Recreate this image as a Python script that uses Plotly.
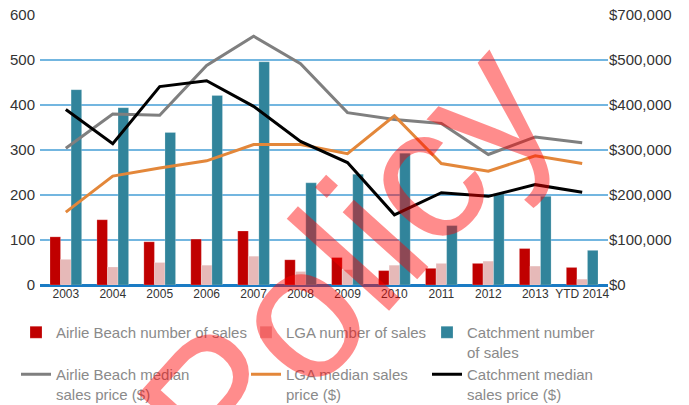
import plotly.graph_objects as go

categories = ["2003", "2004", "2005", "2006", "2007", "2008", "2009", "2010", "2011", "2012", "2013", "YTD 2014"]

airlie_sales = [107, 145, 96, 102, 120, 56, 61, 32, 37, 48, 81, 39]
lga_sales = [57, 40, 50, 44, 64, 30, 34, 44, 48, 53, 42, 13]
catchment_sales = [434, 394, 339, 421, 496, 227, 246, 293, 132, 203, 197, 77]

airlie_price = [304000, 380000, 377000, 488000, 553000, 492000, 383000, 368000, 359000, 290000, 329000, 316000]
lga_price = [162000, 242000, 260000, 276000, 312000, 312000, 292000, 376000, 270000, 253000, 287000, 270000]
catchment_price = [390000, 314000, 441000, 454000, 397000, 319000, 272000, 156000, 205000, 197000, 223000, 206000]

left_ticks = [0, 100, 200, 300, 400, 500, 600]
right_tickvals = [0, 100000, 200000, 300000, 400000, 500000, 600000]
right_ticktext = ["$0", "$100,000", "$200,000", "$300,000", "$400,000", "$500,000", "$700,000"]

REG = "Liberation Sans, Arial, sans-serif"

fig = go.Figure()
fig.add_trace(go.Bar(x=categories, y=airlie_sales, name="Airlie Beach number of sales",
                     marker=dict(color="#c00000", line=dict(color="rgba(255,255,255,0.35)", width=0.6)),
                     legend="legend"))
fig.add_trace(go.Bar(x=categories, y=lga_sales, name="LGA number of sales",
                     marker=dict(color="#e6b9b8", line=dict(color="rgba(255,255,255,0.35)", width=0.6)),
                     legend="legend2"))
fig.add_trace(go.Bar(x=categories, y=catchment_sales, name="Catchment number<br>of sales",
                     marker=dict(color="#31849b", line=dict(color="rgba(255,255,255,0.35)", width=0.6)),
                     legend="legend3"))
fig.add_trace(go.Scatter(x=categories, y=airlie_price, name="Airlie Beach median<br>sales price ($)",
                         mode="lines", line=dict(color="#7f7f7f", width=3), yaxis="y2", legend="legend4"))
fig.add_trace(go.Scatter(x=categories, y=lga_price, name="LGA median sales<br>price ($)",
                         mode="lines", line=dict(color="#e3873a", width=3), yaxis="y2", legend="legend5"))
fig.add_trace(go.Scatter(x=categories, y=catchment_price, name="Catchment median<br>sales price ($)",
                         mode="lines", line=dict(color="#000000", width=3), yaxis="y2", legend="legend6"))

W, H = 689, 405
ML, MR, MT, MB = 40, 81, 15, 120
pw, ph = W - ML - MR, H - MT - MB

def px(xp):
    return (xp - ML) / pw

def py(yp):
    return (H - MB - yp) / ph

leg_common = dict(font=dict(family=REG, size=15, color="#8a8a8a"), bgcolor="rgba(0,0,0,0)",
                  xanchor="left", yanchor="top", valign="top", itemwidth=30)
legend_pos = [(16, 316), (246, 316), (427, 316), (16, 358), (246, 358), (427, 358)]
legend_keys = ["legend", "legend2", "legend3", "legend4", "legend5", "legend6"]
layout_legends = {}
for k, (lx, ly) in zip(legend_keys, legend_pos):
    layout_legends[k] = dict(x=px(lx), y=py(ly), **leg_common)

fig.update_layout(
    width=W, height=H,
    margin=dict(l=ML, r=MR, t=MT, b=MB, autoexpand=False),
    paper_bgcolor="white", plot_bgcolor="white",
    barmode="group", bargap=0.325, bargroupgap=0,
    showlegend=True,
    xaxis=dict(type="category", range=[-0.55, 11.55], showgrid=False, ticks="",
               tickfont=dict(family=REG, size=12, color="#333333"), showline=False, zeroline=False,
               automargin=False),
    yaxis=dict(range=[0, 600], tickvals=left_ticks, showgrid=True, gridcolor="#73b6e0", gridwidth=1.5,
               zeroline=True, zerolinecolor="#1a7bc4", zerolinewidth=3, automargin=False,
               tickfont=dict(family=REG, size=15, color="#333333"), ticks="", ticklabelstandoff=4),
    yaxis2=dict(range=[0, 600000], overlaying="y", side="right", tickvals=right_tickvals,
                ticktext=right_ticktext, showgrid=False, zeroline=False, ticks="", automargin=False,
                tickfont=dict(family=REG, size=15, color="#333333"), ticklabelstandoff=0),
    **layout_legends,
)

fig.add_annotation(text="Policy", xref="paper", yref="paper", x=px(346), y=py(260),
                   xanchor="center", yanchor="middle",
                   showarrow=False, textangle=-48,
                   font=dict(family=REG, size=190, color="rgba(255,0,0,0.45)"))

fig.write_html("out.html", config={"displayModeBar": False},
               post_script="document.body.style.margin='0';document.body.style.padding='0';window.dispatchEvent(new Event('resize'));")
